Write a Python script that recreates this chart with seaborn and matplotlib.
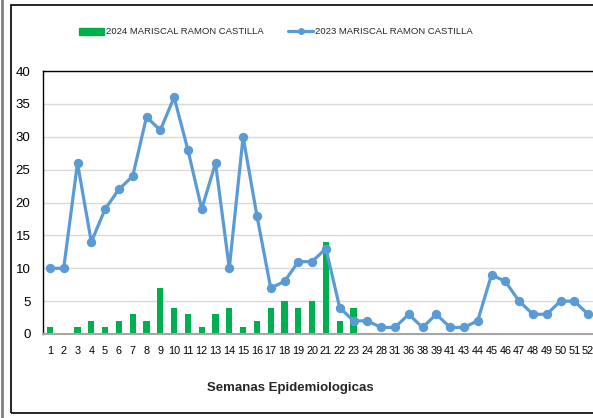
import numpy as np
import pandas as pd
import matplotlib
matplotlib.use("Agg")
import matplotlib.pyplot as plt
import seaborn as sns
from matplotlib.patches import Rectangle, Patch
from matplotlib.lines import Line2D

# semanas epidemiologicas
semanas = ["1", "2", "3", "4", "5", "6", "7", "8", "9", "10", "11", "12", "13",
           "14", "15", "16", "17", "18", "19", "20", "21", "22", "23", "24",
           "28", "31", "36", "38", "39", "41", "43", "44", "45", "46", "47",
           "48", "49", "50", "51", "52"]
casos_2024 = [1, 0, 1, 2, 1, 2, 3, 2, 7, 4, 3, 1, 3, 4, 1, 2, 4, 5, 4, 5,
              14, 2, 4, 0, 0, 0, 0, 0, 0, 0, 0, 0, 0, 0, 0, 0, 0, 0, 0, 0]
casos_2023 = [10, 10, 26, 14, 19, 22, 24, 33, 31, 36, 28, 19, 26, 10, 30, 18,
              7, 8, 11, 11, 13, 4, 2, 2, 1, 1, 3, 1, 3, 1, 1, 2, 9, 8, 5, 3,
              3, 5, 5, 3]

lbl_2024 = "2024 MARISCAL RAMON CASTILLA"
lbl_2023 = "2023 MARISCAL RAMON CASTILLA"

df = pd.DataFrame({"semana": semanas, "c2024": casos_2024, "c2023": casos_2023})

sns.set_style("white")
plt.rcParams["font.family"] = ["Liberation Sans Narrow", "Liberation Sans", "DejaVu Sans"]

verde = "#00B050"
azul = "#5B9BD5"

fig = plt.figure(figsize=(5.93, 4.18), dpi=100)
ax = fig.add_axes([43 / 593, 84 / 418, 552 / 593, 263 / 418])

sns.barplot(data=df, x="semana", y="c2024", order=semanas, color=verde,
            width=0.45, saturation=1, linewidth=0, ax=ax, zorder=2)
sns.pointplot(data=df, x="semana", y="c2023", order=semanas, color=azul,
              markers="o", markersize=5, linewidth=2.3, ax=ax, zorder=3)

ax.set_ylim(0, 40)
ax.set_xlim(-0.5, len(semanas) - 0.5)
ax.set_yticks(range(0, 41, 5))
ax.grid(axis="y", color="#D9D9D9", linewidth=1, zorder=0)
ax.set_axisbelow(True)

ax.spines["right"].set_visible(False)
ax.spines["top"].set_color("black")
ax.spines["top"].set_linewidth(1)
ax.spines["left"].set_color("black")
ax.spines["left"].set_linewidth(1)
ax.spines["bottom"].set_color("#A6A6A6")
ax.spines["bottom"].set_linewidth(1.5)

ax.tick_params(axis="x", length=0, labelsize=7.8, colors="black", pad=9)
ax.tick_params(axis="y", length=0, labelsize=9.5, colors="black", pad=9)
ax.set_ylabel("")
ax.set_xlabel("Semanas Epidemiologicas", fontsize=9.5, fontweight="bold")
ax.xaxis.set_label_coords((290 - 43) / 552, -(388 - 334) / 263)
ax.xaxis.label.set_verticalalignment("center")

handles = [Patch(facecolor=verde, edgecolor=verde, label=lbl_2024),
           Line2D([0], [0], color=azul, linewidth=2.3, marker="o",
                  markersize=4, label=lbl_2023)]
fig.legend(handles=handles, loc="center", bbox_to_anchor=(276 / 593, 1 - 32 / 418),
           ncol=2, frameon=False, fontsize=6.8, columnspacing=2.6,
           handlelength=2.6, handleheight=0.8, handletextpad=0.25)

# marco del grafico
fig.patches.append(Rectangle((11 / 593, 5 / 418), 1.0, 408 / 418,
                             transform=fig.transFigure, fill=False,
                             edgecolor="black", linewidth=1.2))
fig.lines.append(Line2D([2 / 593, 2 / 593], [0, 1], transform=fig.transFigure,
                        color="#7F7F7F", linewidth=2))

fig.savefig("out.png", dpi=100)
